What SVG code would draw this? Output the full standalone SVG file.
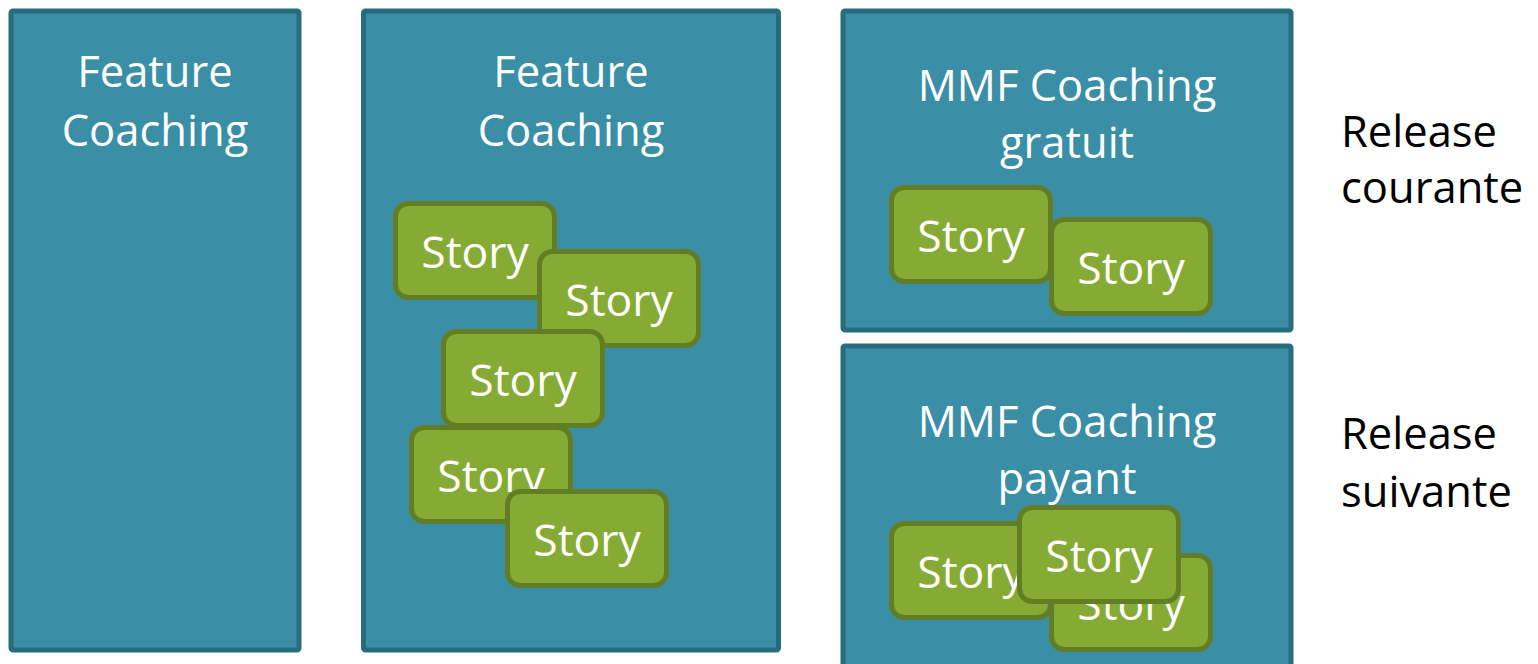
<svg xmlns="http://www.w3.org/2000/svg" width="1538" height="664" viewBox="0 0 1538 664">
<style>
.box{fill:#3A8FA6;stroke:#276C7D;stroke-width:5}
.story{fill:#86AB35;stroke:#617E25;stroke-width:5}
.wt{fill:#FFFFFF;font-family:"Open Sans","Noto Sans",sans-serif;font-size:43.5px;text-anchor:middle}
.st{font-size:44.5px}
.bt{fill:#000000;font-family:"Open Sans","Noto Sans",sans-serif;font-size:43.5px}
</style>
<rect width="1538" height="664" fill="#FFFFFF"/>
<g id="feature1">
<rect class="box" x="11" y="11" width="288" height="639" rx="2"/>
<text class="wt" x="155" y="87">Feature</text>
<text class="wt" x="155" y="146">Coaching</text>
</g>
<g id="feature2">
<rect class="box" x="363.5" y="11" width="415" height="639" rx="2"/>
<text class="wt" x="571" y="87">Feature</text>
<text class="wt" x="571" y="146">Coaching</text>
</g>
<g id="mmf-gratuit">
<rect class="box" x="843" y="11" width="448" height="319" rx="2"/>
<text class="wt" x="1067" y="101">MMF Coaching</text>
<text class="wt" x="1067" y="158">gratuit</text>
</g>
<g id="mmf-payant">
<rect class="box" x="843" y="346" width="448" height="330" rx="2"/>
<text class="wt" x="1067" y="437">MMF Coaching</text>
<text class="wt" x="1067" y="494">payant</text>
</g>
<g id="story1"><rect class="story" x="395.5" y="203.5" width="159" height="94" rx="13"/><text class="wt st" x="475" y="268">Story</text></g>
<g id="story2"><rect class="story" x="539.5" y="251.5" width="159" height="94" rx="13"/><text class="wt st" x="619" y="316">Story</text></g>
<g id="story3"><rect class="story" x="443.5" y="331.5" width="159" height="94" rx="13"/><text class="wt st" x="523" y="396">Story</text></g>
<g id="story4"><rect class="story" x="411.5" y="427.5" width="159" height="94" rx="13"/><text class="wt st" x="491" y="492">Story</text></g>
<g id="story5"><rect class="story" x="507.5" y="491.5" width="159" height="94" rx="13"/><text class="wt st" x="587" y="556">Story</text></g>
<g id="story6"><rect class="story" x="891.5" y="187.5" width="159" height="94" rx="13"/><text class="wt st" x="971" y="252">Story</text></g>
<g id="story7"><rect class="story" x="1051.5" y="219.5" width="159" height="94" rx="13"/><text class="wt st" x="1131" y="284">Story</text></g>
<g id="story8"><rect class="story" x="891.5" y="523.5" width="159" height="94" rx="13"/><text class="wt st" x="971" y="588">Story</text></g>
<g id="story9"><rect class="story" x="1051.5" y="555.5" width="159" height="94" rx="13"/><text class="wt st" x="1131" y="620">Story</text></g>
<g id="story10"><rect class="story" x="1019.5" y="507.5" width="159" height="94" rx="13"/><text class="wt st" x="1099" y="572">Story</text></g>
<g id="connectors"></g>
<g id="labels">
<text class="bt" x="1341" y="147">Release</text>
<text class="bt" x="1341" y="203">courante</text>
<text class="bt" x="1341" y="449">Release</text>
<text class="bt" x="1341" y="507">suivante</text>
</g>
</svg>
